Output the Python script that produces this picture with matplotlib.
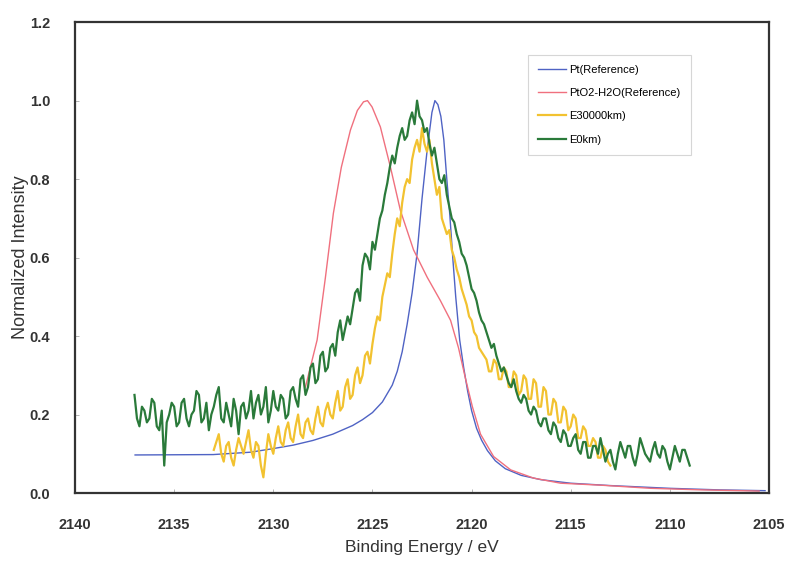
import numpy as np
import matplotlib
matplotlib.use("Agg")
import matplotlib.pyplot as plt

plt.rcParams['font.family'] = ['Liberation Sans', 'DejaVu Sans']

# Pt reference
pt_energy = [2136.97, 2133.03, 2131.16, 2130.15, 2129.0, 2128.0, 2127.0, 2126.0,
             2125.5, 2125.0, 2124.5, 2124.0, 2123.75, 2123.5, 2123.25, 2123.0,
             2122.75, 2122.5, 2122.25, 2122.0, 2121.85, 2121.7, 2121.55, 2121.4,
             2121.25, 2121.1, 2120.95, 2120.8, 2120.6, 2120.4, 2120.2, 2120.0,
             2119.75, 2119.5, 2119.2, 2118.8, 2118.3, 2117.5, 2116.5, 2115.0,
             2113.0, 2110.0, 2107.5, 2105.2]
pt_int = [0.097, 0.098, 0.104, 0.112, 0.122, 0.134, 0.150, 0.172,
          0.187, 0.205, 0.232, 0.275, 0.31, 0.36, 0.43, 0.51,
          0.61, 0.75, 0.87, 0.97, 1.0, 0.99, 0.96, 0.90,
          0.80, 0.71, 0.60, 0.50, 0.39, 0.32, 0.26, 0.21,
          0.165, 0.135, 0.108, 0.082, 0.062, 0.045, 0.034, 0.025,
          0.019, 0.012, 0.008, 0.006]

# PtO2-H2O reference
pto2_energy = [2128.38, 2127.79, 2127.37, 2126.97, 2126.57, 2126.11, 2125.76, 2125.45,
               2125.25, 2125.02, 2124.60, 2124.09, 2123.59, 2122.93, 2122.24, 2121.57,
               2121.06, 2120.66, 2120.30, 2119.96, 2119.55, 2118.89, 2118.03, 2116.87,
               2115.51, 2113.48, 2110.96, 2108.43, 2105.50]
pto2_int = [0.27, 0.39, 0.55, 0.713, 0.83, 0.925, 0.975, 0.997,
            1.0, 0.984, 0.933, 0.83, 0.72, 0.62, 0.55, 0.49,
            0.44, 0.37, 0.29, 0.22, 0.15, 0.093, 0.059, 0.038,
            0.025, 0.02, 0.012, 0.008, 0.005]

# E30000km, 0.125 eV steps from 2133.0 to 2113.0
e30000_energy = np.round(np.arange(2133.0, 2112.99, -0.125), 3)
e30000_int = [0.11, 0.13, 0.15, 0.10, 0.08, 0.12, 0.13, 0.09, 0.07, 0.11, 0.14, 0.12, 0.10, 0.13, 0.16, 0.11,
              0.09, 0.13, 0.12, 0.07, 0.04, 0.10, 0.15, 0.12, 0.10, 0.14, 0.17, 0.13, 0.12, 0.16, 0.18, 0.14,
              0.13, 0.17, 0.20, 0.15, 0.14, 0.18, 0.19, 0.16, 0.15, 0.19, 0.22, 0.18, 0.17, 0.21, 0.23, 0.20,
              0.19, 0.23, 0.26, 0.21, 0.22, 0.27, 0.29, 0.24, 0.25, 0.30, 0.32, 0.28, 0.30, 0.35, 0.36, 0.33,
              0.38, 0.42, 0.45, 0.44, 0.50, 0.53, 0.56, 0.55, 0.61, 0.66, 0.70, 0.68, 0.74, 0.78, 0.80, 0.79,
              0.85, 0.88, 0.90, 0.87, 0.93, 0.89, 0.87, 0.90, 0.84, 0.80, 0.76, 0.78, 0.70, 0.68, 0.66, 0.67,
              0.62, 0.60, 0.57, 0.55, 0.52, 0.50, 0.48, 0.45, 0.44, 0.41, 0.40, 0.37, 0.36, 0.35, 0.34, 0.31,
              0.31, 0.34, 0.33, 0.29, 0.29, 0.32, 0.31, 0.27, 0.27, 0.31, 0.30, 0.25, 0.26, 0.30, 0.29, 0.24,
              0.24, 0.29, 0.28, 0.22, 0.22, 0.27, 0.26, 0.20, 0.20, 0.24, 0.23, 0.18, 0.18, 0.22, 0.21, 0.16,
              0.17, 0.20, 0.19, 0.14, 0.14, 0.17, 0.16, 0.12, 0.12, 0.14, 0.13, 0.09, 0.09, 0.12, 0.11, 0.08,
              0.07]

# E0km, 0.125 eV steps from 2137.0 to 2109.0
e0_energy = np.round(np.arange(2137.0, 2108.99, -0.125), 3)
e0_int = [0.25, 0.19, 0.17, 0.22, 0.21, 0.18, 0.19, 0.24, 0.23, 0.17, 0.16, 0.21, 0.07, 0.18, 0.20, 0.23,
          0.22, 0.17, 0.18, 0.23, 0.24, 0.19, 0.17, 0.20, 0.21, 0.26, 0.25, 0.18, 0.19, 0.23, 0.16, 0.20,
          0.22, 0.25, 0.27, 0.19, 0.18, 0.23, 0.20, 0.17, 0.24, 0.21, 0.15, 0.22, 0.23, 0.19, 0.21, 0.26,
          0.19, 0.23, 0.25, 0.20, 0.22, 0.27, 0.18, 0.21, 0.26, 0.22, 0.21, 0.25, 0.24, 0.19, 0.20, 0.26,
          0.27, 0.24, 0.22, 0.29, 0.30, 0.25, 0.27, 0.32, 0.33, 0.28, 0.29, 0.35, 0.36, 0.31, 0.32, 0.37,
          0.38, 0.35, 0.41, 0.44, 0.39, 0.42, 0.45, 0.43, 0.47, 0.51, 0.52, 0.49, 0.58, 0.61, 0.60, 0.57,
          0.64, 0.62, 0.66, 0.70, 0.72, 0.76, 0.79, 0.83, 0.86, 0.84, 0.88, 0.91, 0.93, 0.90, 0.91, 0.95,
          0.97, 0.94, 1.00, 0.96, 0.95, 0.92, 0.93, 0.89, 0.86, 0.88, 0.84, 0.80, 0.79, 0.81, 0.76, 0.73,
          0.70, 0.69, 0.66, 0.64, 0.61, 0.60, 0.58, 0.55, 0.52, 0.51, 0.49, 0.46, 0.44, 0.43, 0.41, 0.39,
          0.37, 0.38, 0.35, 0.33, 0.31, 0.32, 0.30, 0.28, 0.27, 0.29, 0.26, 0.24, 0.23, 0.25, 0.24, 0.21,
          0.20, 0.22, 0.21, 0.18, 0.17, 0.19, 0.19, 0.16, 0.15, 0.18, 0.17, 0.14, 0.13, 0.16, 0.15, 0.12,
          0.12, 0.14, 0.15, 0.11, 0.10, 0.13, 0.13, 0.09, 0.09, 0.12, 0.12, 0.10, 0.14, 0.11, 0.08, 0.10,
          0.11, 0.08, 0.06, 0.10, 0.13, 0.11, 0.09, 0.12, 0.12, 0.09, 0.07, 0.10, 0.14, 0.12, 0.10, 0.09,
          0.08, 0.11, 0.13, 0.10, 0.09, 0.12, 0.11, 0.08, 0.06, 0.09, 0.12, 0.10, 0.08, 0.11, 0.11, 0.09,
          0.07]

fig = plt.figure(figsize=(7.92, 5.68), dpi=100)
ax = fig.add_axes([0.0947, 0.132, 0.8763, 0.829])

ax.plot(pt_energy, pt_int, color='#4f63c4', lw=1.0, label='Pt(Reference)')
ax.plot(pto2_energy, pto2_int, color='#f0707e', lw=1.0, label='PtO2-H2O(Reference)')
ax.plot(e30000_energy, e30000_int, color='#f2c230', lw=1.6, label='E30000km)')
ax.plot(e0_energy, e0_int, color='#2a7a3a', lw=1.6, label='E0km)')

ax.set_xlim(2140, 2105)
ax.set_ylim(0, 1.2)
ax.set_xticks([2140, 2135, 2130, 2125, 2120, 2115, 2110, 2105])
ax.set_yticks([0.0, 0.2, 0.4, 0.6, 0.8, 1.0, 1.2])
ax.set_yticklabels(['0.0', '0.2', '0.4', '0.6', '0.8', '1.0', '1.2'])
ax.tick_params(direction='in', length=3, width=0.6, color='#aaaaaa',
               labelsize=10.5, labelcolor='#333333', pad=18)
for lab in ax.get_xticklabels() + ax.get_yticklabels():
    lab.set_fontweight('bold')
for s in ax.spines.values():
    s.set_linewidth(1.6)
    s.set_color('#333333')

ax.set_xlabel('Binding Energy / eV', fontsize=12.5, color='#333333', labelpad=6)
ax.set_ylabel('Normalized Intensity', fontsize=13, color='#333333', labelpad=0)

leg = ax.legend(loc='upper right', bbox_to_anchor=(0.895, 0.943), fontsize=8,
                frameon=True, fancybox=False, handlelength=2.5, handletextpad=0.3,
                labelspacing=1.2, borderpad=0.9)
leg.get_frame().set_edgecolor('#cccccc')
leg.get_frame().set_linewidth(0.8)

fig.savefig('out.png', dpi=100)
